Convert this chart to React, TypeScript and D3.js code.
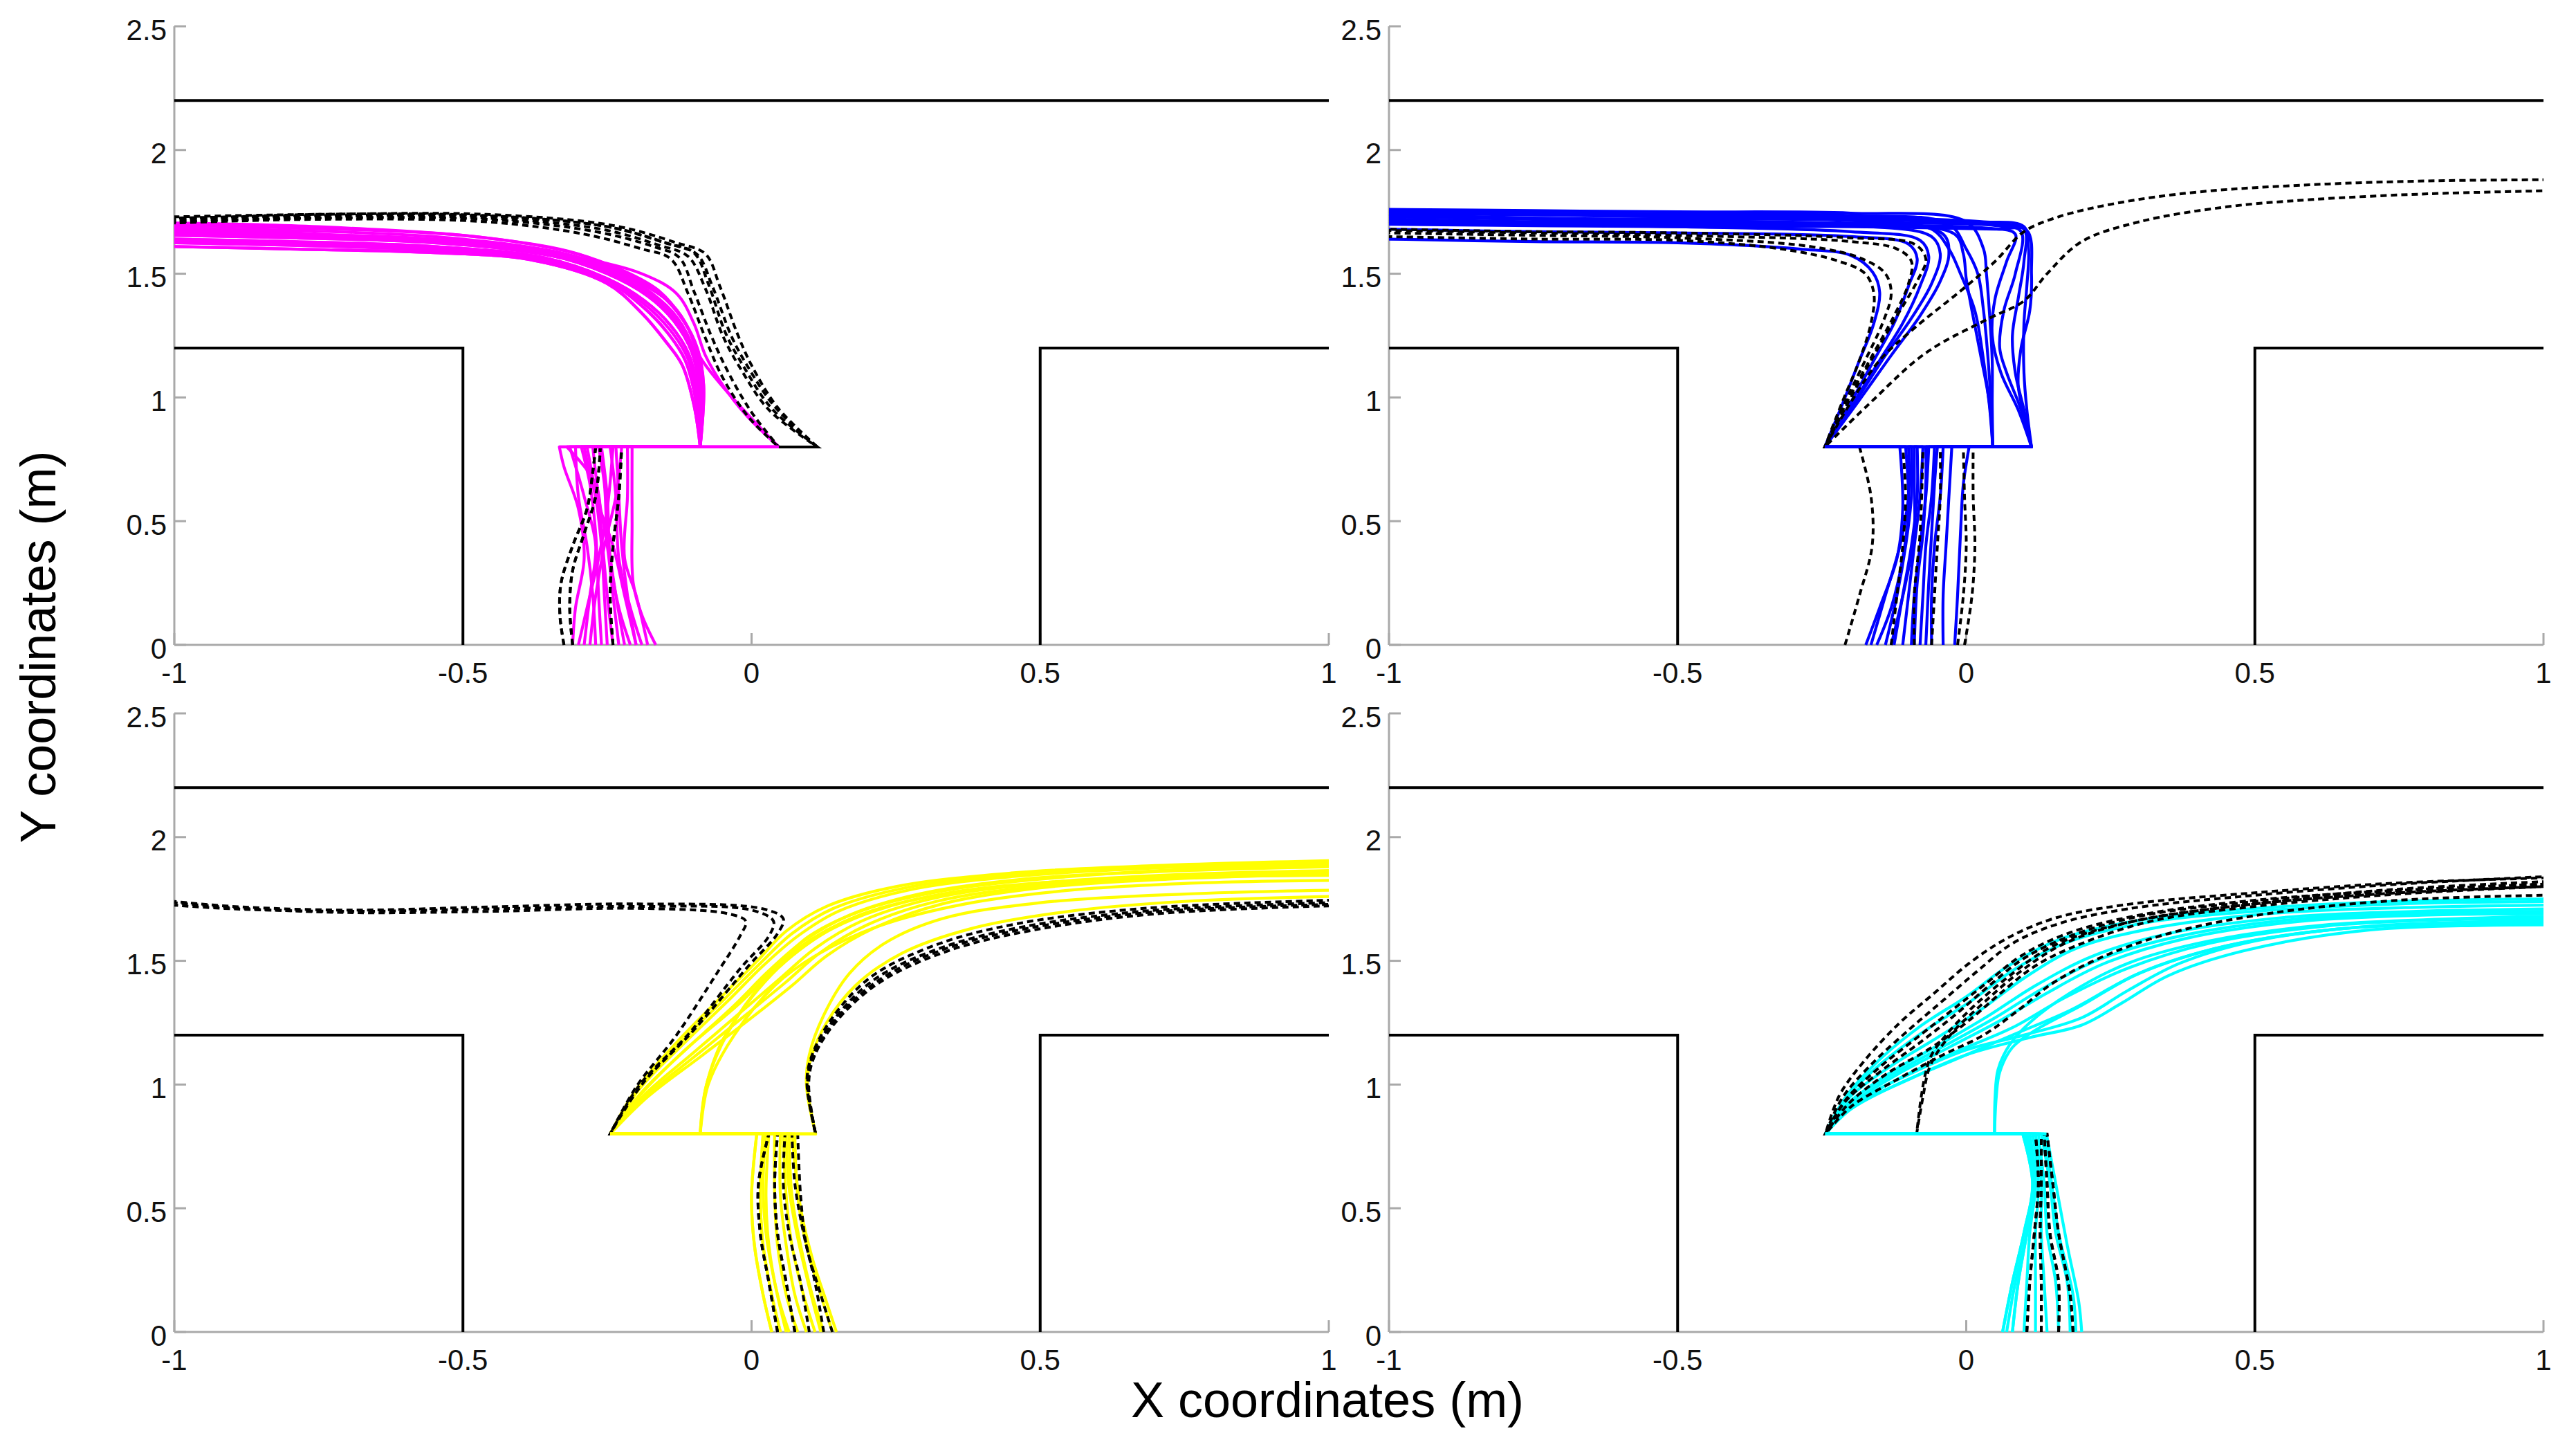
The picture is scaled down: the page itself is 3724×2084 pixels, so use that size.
import React from "react";
import * as d3 from "d3";

type P = [number, number];

const xTicks = [-1, -0.5, 0, 0.5, 1];
const yTicks = [0, 0.5, 1, 1.5, 2, 2.5];
const xLabel = "X coordinates (m)";
const yLabel = "Y coordinates (m)";

const walls: P[][] = [
  [[-1, 2.2], [1, 2.2]],
  [[-1, 1.2], [-0.5, 1.2], [-0.5, 0]],
  [[0.5, 0], [0.5, 1.2], [1, 1.2]],
];

// ---------- Panel 1 (magenta) ----------
const magentaLower: P[][] = [
  [[-0.31, 0], [-0.305, 0.15], [-0.29, 0.35], [-0.3, 0.55], [-0.325, 0.72], [-0.333, 0.8]],
  [[-0.29, 0], [-0.28, 0.2], [-0.27, 0.4], [-0.29, 0.6], [-0.315, 0.8]],
  [[-0.27, 0], [-0.275, 0.2], [-0.285, 0.4], [-0.3, 0.6], [-0.305, 0.8]],
  [[-0.25, 0], [-0.255, 0.2], [-0.26, 0.4], [-0.27, 0.6], [-0.285, 0.8]],
  [[-0.23, 0], [-0.24, 0.2], [-0.25, 0.4], [-0.265, 0.6], [-0.275, 0.8]],
  [[-0.21, 0], [-0.23, 0.15], [-0.245, 0.35], [-0.25, 0.6], [-0.26, 0.8]],
  [[-0.19, 0], [-0.21, 0.15], [-0.23, 0.35], [-0.235, 0.6], [-0.245, 0.8]],
  [[-0.166, 0], [-0.19, 0.12], [-0.205, 0.25], [-0.207, 0.5], [-0.207, 0.8]],
  [[-0.3, 0], [-0.285, 0.15], [-0.265, 0.35], [-0.25, 0.55], [-0.24, 0.8]],
  [[-0.28, 0], [-0.27, 0.2], [-0.255, 0.4], [-0.235, 0.6], [-0.225, 0.8]],
  [[-0.2, 0], [-0.22, 0.2], [-0.24, 0.4], [-0.27, 0.6], [-0.29, 0.8]],
  [[-0.18, 0], [-0.2, 0.2], [-0.22, 0.35], [-0.215, 0.6], [-0.215, 0.8]],
  [[-0.26, 0], [-0.265, 0.2], [-0.27, 0.45], [-0.28, 0.65], [-0.295, 0.8]],
  [[-0.22, 0], [-0.235, 0.2], [-0.25, 0.45], [-0.255, 0.65], [-0.265, 0.8]],
  [[-0.24, 0], [-0.25, 0.2], [-0.26, 0.45], [-0.27, 0.65], [-0.32, 0.8]],
  [[-0.2, 0], [-0.215, 0.2], [-0.225, 0.4], [-0.23, 0.6], [-0.235, 0.8]],
];
const magentaUpper: P[][] = [
  [[-0.089, 0.8], [-0.099, 0.96], [-0.12, 1.13], [-0.15, 1.23], [-0.19, 1.34], [-0.25, 1.46], [-0.38, 1.555], [-0.55, 1.585], [-0.8, 1.6], [-1, 1.61]],
  [[-0.089, 0.8], [-0.096, 0.98], [-0.115, 1.15], [-0.145, 1.26], [-0.19, 1.37], [-0.25, 1.47], [-0.37, 1.56], [-0.55, 1.595], [-0.8, 1.615], [-1, 1.625]],
  [[-0.089, 0.8], [-0.093, 1.0], [-0.108, 1.17], [-0.14, 1.29], [-0.185, 1.39], [-0.25, 1.48], [-0.36, 1.565], [-0.55, 1.61], [-0.8, 1.63], [-1, 1.64]],
  [[-0.089, 0.8], [-0.09, 1.0], [-0.103, 1.18], [-0.135, 1.31], [-0.18, 1.41], [-0.25, 1.5], [-0.35, 1.575], [-0.55, 1.625], [-0.8, 1.645], [-1, 1.655]],
  [[-0.089, 0.8], [-0.087, 1.02], [-0.1, 1.19], [-0.128, 1.32], [-0.172, 1.42], [-0.24, 1.51], [-0.34, 1.58], [-0.55, 1.64], [-0.8, 1.66], [-1, 1.67]],
  [[-0.089, 0.8], [-0.085, 1.03], [-0.097, 1.2], [-0.122, 1.33], [-0.165, 1.43], [-0.23, 1.51], [-0.33, 1.585], [-0.55, 1.65], [-0.8, 1.675], [-1, 1.685]],
  [[-0.089, 0.8], [-0.083, 1.05], [-0.094, 1.2], [-0.12, 1.32], [-0.16, 1.43], [-0.22, 1.51], [-0.31, 1.585], [-0.5, 1.655], [-0.8, 1.685], [-1, 1.695]],
  [[-0.089, 0.8], [-0.083, 1.05], [-0.093, 1.19], [-0.118, 1.31], [-0.16, 1.42], [-0.22, 1.5], [-0.3, 1.58], [-0.46, 1.645], [-0.75, 1.69], [-1, 1.705]],
  [[0.047, 0.8], [-0.014, 0.95], [-0.057, 1.063], [-0.089, 1.163], [-0.11, 1.28], [-0.14, 1.38], [-0.2, 1.47], [-0.3, 1.55], [-0.5, 1.62], [-0.75, 1.655], [-1, 1.68]],
  [[0.047, 0.8], [-0.01, 0.93], [-0.05, 1.05], [-0.08, 1.17], [-0.1, 1.3], [-0.13, 1.42], [-0.19, 1.5], [-0.3, 1.565], [-0.5, 1.63], [-0.75, 1.66], [-1, 1.69]],
  [[-0.089, 0.8], [-0.094, 0.99], [-0.111, 1.16], [-0.142, 1.275], [-0.187, 1.38], [-0.25, 1.475], [-0.365, 1.562], [-0.55, 1.602], [-0.8, 1.622], [-1, 1.632]],
  [[-0.089, 0.8], [-0.088, 1.01], [-0.101, 1.185], [-0.131, 1.315], [-0.176, 1.415], [-0.245, 1.505], [-0.345, 1.578], [-0.55, 1.632], [-0.8, 1.652], [-1, 1.662]],
];
const magentaRefLower: P[][] = [
  [[-0.325, 0], [-0.332, 0.12], [-0.33, 0.25], [-0.31, 0.4], [-0.285, 0.55], [-0.275, 0.7], [-0.27, 0.8]],
  [[-0.31, 0], [-0.315, 0.15], [-0.31, 0.3], [-0.29, 0.45], [-0.27, 0.6], [-0.262, 0.8]],
  [[-0.24, 0], [-0.245, 0.2], [-0.24, 0.4], [-0.23, 0.6], [-0.225, 0.8]],
];
const magentaRefUpper: P[][] = [
  [[0.114, 0.8], [0.04, 0.963], [-0.009, 1.134], [-0.035, 1.248], [-0.068, 1.45], [-0.094, 1.577], [-0.142, 1.62], [-0.249, 1.69], [-0.463, 1.734], [-0.75, 1.735], [-1, 1.725]],
  [[0.114, 0.8], [0.03, 0.95], [-0.02, 1.12], [-0.05, 1.25], [-0.08, 1.44], [-0.11, 1.57], [-0.16, 1.615], [-0.26, 1.68], [-0.46, 1.725], [-0.75, 1.73], [-1, 1.715]],
  [[0.047, 0.8], [0.0, 0.94], [-0.04, 1.1], [-0.07, 1.25], [-0.1, 1.43], [-0.125, 1.565], [-0.17, 1.61], [-0.27, 1.67], [-0.46, 1.72], [-0.75, 1.725], [-1, 1.71]],
  [[0.114, 0.8], [0.045, 0.96], [0.0, 1.13], [-0.025, 1.26], [-0.055, 1.45], [-0.08, 1.58], [-0.13, 1.625], [-0.24, 1.695], [-0.46, 1.74], [-0.75, 1.74], [-1, 1.73]],
  [[0.047, 0.8], [-0.005, 0.92], [-0.05, 1.08], [-0.08, 1.24], [-0.11, 1.42], [-0.14, 1.56], [-0.19, 1.6], [-0.29, 1.66], [-0.46, 1.71], [-0.75, 1.72], [-1, 1.705]],
  [[0.114, 0.8], [0.035, 0.955], [-0.015, 1.13], [-0.045, 1.26], [-0.075, 1.46], [-0.1, 1.585], [-0.15, 1.625], [-0.25, 1.69], [-0.46, 1.735], [-0.75, 1.74], [-1, 1.72]],
];

// ---------- Panel 2 (blue) ----------
const blueLower: P[][] = [
  [[-0.174, 0], [-0.15, 0.15], [-0.12, 0.35], [-0.11, 0.55], [-0.115, 0.8]],
  [[-0.155, 0], [-0.13, 0.15], [-0.11, 0.35], [-0.1, 0.55], [-0.105, 0.8]],
  [[-0.14, 0], [-0.12, 0.2], [-0.105, 0.4], [-0.095, 0.6], [-0.095, 0.8]],
  [[-0.125, 0], [-0.11, 0.2], [-0.095, 0.4], [-0.085, 0.6], [-0.085, 0.8]],
  [[-0.11, 0], [-0.1, 0.2], [-0.09, 0.4], [-0.08, 0.6], [-0.075, 0.8]],
  [[-0.095, 0], [-0.09, 0.2], [-0.08, 0.4], [-0.07, 0.6], [-0.065, 0.8]],
  [[-0.08, 0], [-0.075, 0.2], [-0.07, 0.4], [-0.06, 0.6], [-0.055, 0.8]],
  [[-0.06, 0], [-0.06, 0.2], [-0.055, 0.4], [-0.045, 0.6], [-0.04, 0.8]],
  [[-0.04, 0], [-0.04, 0.2], [-0.035, 0.4], [-0.03, 0.6], [-0.025, 0.8]],
  [[-0.02, 0], [-0.015, 0.2], [-0.01, 0.45], [-0.005, 0.65], [0.005, 0.8]],
  [[-0.165, 0], [-0.14, 0.2], [-0.115, 0.4], [-0.1, 0.6], [-0.1, 0.8]],
  [[-0.09, 0], [-0.085, 0.25], [-0.075, 0.45], [-0.07, 0.65], [-0.07, 0.8]],
  [[-0.13, 0], [-0.105, 0.25], [-0.09, 0.45], [-0.09, 0.65], [-0.09, 0.8]],
  [[-0.07, 0], [-0.065, 0.25], [-0.06, 0.45], [-0.055, 0.65], [-0.05, 0.8]],
];
const blueUpper: P[][] = [
  [[-0.245, 0.8], [-0.215, 0.97], [-0.185, 1.15], [-0.16, 1.3], [-0.15, 1.425], [-0.162, 1.506], [-0.199, 1.573], [-0.29, 1.6], [-0.5, 1.625], [-0.75, 1.63], [-1, 1.64]],
  [[-0.245, 0.8], [-0.2, 0.98], [-0.16, 1.15], [-0.125, 1.3], [-0.1, 1.45], [-0.085, 1.56], [-0.1, 1.62], [-0.2, 1.65], [-0.5, 1.665], [-0.75, 1.67], [-1, 1.68]],
  [[-0.245, 0.8], [-0.195, 0.98], [-0.15, 1.15], [-0.11, 1.3], [-0.08, 1.45], [-0.065, 1.57], [-0.08, 1.635], [-0.2, 1.67], [-0.5, 1.69], [-0.75, 1.7], [-1, 1.71]],
  [[-0.245, 0.8], [-0.19, 0.99], [-0.14, 1.17], [-0.095, 1.32], [-0.06, 1.46], [-0.045, 1.58], [-0.06, 1.65], [-0.2, 1.695], [-0.5, 1.71], [-0.75, 1.72], [-1, 1.73]],
  [[-0.245, 0.8], [-0.185, 0.99], [-0.13, 1.17], [-0.08, 1.33], [-0.045, 1.47], [-0.03, 1.58], [-0.04, 1.66], [-0.2, 1.72], [-0.5, 1.73], [-0.75, 1.74], [-1, 1.75]],
  [[0.046, 0.8], [0.04, 0.97], [0.03, 1.15], [0.015, 1.35], [-0.01, 1.5], [-0.03, 1.6], [-0.06, 1.68], [-0.2, 1.715], [-0.5, 1.72], [-0.75, 1.725], [-1, 1.74]],
  [[0.046, 0.8], [0.043, 0.97], [0.038, 1.15], [0.03, 1.35], [0.02, 1.5], [0.0, 1.6], [-0.03, 1.7], [-0.2, 1.735], [-0.5, 1.74], [-0.75, 1.745], [-1, 1.755]],
  [[0.046, 0.8], [0.045, 0.97], [0.045, 1.15], [0.04, 1.35], [0.035, 1.5], [0.03, 1.6], [0.0, 1.71], [-0.2, 1.745], [-0.5, 1.75], [-0.75, 1.755], [-1, 1.76]],
  [[0.046, 0.8], [0.04, 0.98], [0.025, 1.17], [0.01, 1.35], [0.0, 1.48], [-0.005, 1.58], [-0.02, 1.66], [-0.2, 1.7], [-0.5, 1.705], [-0.75, 1.71], [-1, 1.72]],
  [[0.113, 0.8], [0.1, 0.95], [0.085, 1.1], [0.08, 1.25], [0.09, 1.4], [0.1, 1.55], [0.1, 1.68], [0.05, 1.7], [-0.2, 1.72], [-0.5, 1.73], [-1, 1.745]],
  [[0.113, 0.8], [0.095, 0.95], [0.07, 1.1], [0.058, 1.2], [0.065, 1.35], [0.085, 1.5], [0.095, 1.67], [0.05, 1.695], [-0.2, 1.705], [-0.5, 1.715], [-1, 1.73]],
  [[0.113, 0.8], [0.105, 0.95], [0.1, 1.1], [0.1, 1.3], [0.105, 1.45], [0.108, 1.6], [0.1, 1.69], [0.03, 1.71], [-0.2, 1.73], [-0.5, 1.74], [-1, 1.75]],
  [[0.113, 0.8], [0.09, 0.95], [0.06, 1.1], [0.045, 1.25], [0.05, 1.4], [0.07, 1.55], [0.085, 1.66], [0.03, 1.685], [-0.2, 1.695], [-0.5, 1.7], [-1, 1.71]],
  [[0.113, 0.8], [0.1, 0.93], [0.09, 1.05], [0.095, 1.2], [0.11, 1.35], [0.113, 1.5], [0.105, 1.675], [0.05, 1.68], [-0.2, 1.69], [-0.5, 1.69], [-1, 1.7]],
];
const blueRefLower: P[][] = [
  [[-0.21, 0], [-0.185, 0.2], [-0.163, 0.4], [-0.165, 0.6], [-0.185, 0.8]],
  [[-0.13, 0], [-0.12, 0.2], [-0.11, 0.4], [-0.105, 0.6], [-0.11, 0.8]],
  [[-0.06, 0], [-0.055, 0.2], [-0.05, 0.4], [-0.045, 0.6], [-0.045, 0.8]],
  [[-0.015, 0], [-0.005, 0.2], [0.0, 0.4], [-0.003, 0.6], [-0.005, 0.8]],
  [[-0.003, 0], [0.01, 0.2], [0.015, 0.4], [0.012, 0.6], [0.012, 0.8]],
  [[-0.09, 0], [-0.09, 0.2], [-0.08, 0.45], [-0.075, 0.8]],
];
const blueRefUpper: P[][] = [
  [[-0.245, 0.8], [-0.2, 0.98], [-0.15, 1.15], [-0.09, 1.28], [-0.01, 1.43], [0.05, 1.55], [0.1, 1.67], [0.16, 1.73], [0.265, 1.787], [0.4, 1.83], [0.6, 1.86], [0.8, 1.875], [1, 1.88]],
  [[-0.245, 0.8], [-0.17, 0.97], [-0.07, 1.18], [0.04, 1.32], [0.1, 1.39], [0.14, 1.5], [0.2, 1.63], [0.3, 1.71], [0.45, 1.77], [0.6, 1.8], [0.8, 1.823], [1, 1.835]],
  [[-0.245, 0.8], [-0.215, 0.98], [-0.185, 1.15], [-0.165, 1.3], [-0.16, 1.42], [-0.175, 1.5], [-0.22, 1.55], [-0.32, 1.6], [-0.5, 1.635], [-0.75, 1.64], [-1, 1.65]],
  [[-0.245, 0.8], [-0.21, 0.98], [-0.175, 1.15], [-0.145, 1.3], [-0.13, 1.42], [-0.14, 1.5], [-0.18, 1.56], [-0.27, 1.61], [-0.5, 1.645], [-0.75, 1.655], [-1, 1.665]],
  [[-0.245, 0.8], [-0.205, 0.99], [-0.165, 1.16], [-0.125, 1.33], [-0.1, 1.46], [-0.095, 1.55], [-0.12, 1.6], [-0.2, 1.63], [-0.5, 1.655], [-0.75, 1.665], [-1, 1.675]],
  [[-0.245, 0.8], [-0.2, 1.0], [-0.16, 1.17], [-0.12, 1.33], [-0.085, 1.47], [-0.07, 1.56], [-0.09, 1.62], [-0.2, 1.645], [-0.5, 1.665], [-0.75, 1.67], [-1, 1.68]],
];

// ---------- Panel 3 (yellow) ----------
const yellowLower: P[][] = [
  [[0.035, 0], [0.02, 0.15], [0.005, 0.35], [0.0, 0.55], [0.009, 0.8]],
  [[0.05, 0], [0.035, 0.15], [0.02, 0.35], [0.015, 0.55], [0.02, 0.8]],
  [[0.065, 0], [0.045, 0.15], [0.03, 0.35], [0.025, 0.55], [0.03, 0.8]],
  [[0.08, 0], [0.06, 0.15], [0.045, 0.35], [0.04, 0.55], [0.04, 0.8]],
  [[0.095, 0], [0.075, 0.15], [0.06, 0.35], [0.05, 0.55], [0.05, 0.8]],
  [[0.11, 0], [0.09, 0.15], [0.07, 0.35], [0.06, 0.55], [0.055, 0.8]],
  [[0.125, 0], [0.105, 0.15], [0.085, 0.35], [0.07, 0.55], [0.065, 0.8]],
  [[0.14, 0], [0.12, 0.15], [0.095, 0.35], [0.08, 0.55], [0.075, 0.8]],
  [[0.147, 0], [0.13, 0.12], [0.105, 0.3], [0.085, 0.5], [0.07, 0.8]],
  [[0.06, 0], [0.04, 0.2], [0.025, 0.4], [0.02, 0.6], [0.025, 0.8]],
  [[0.12, 0], [0.1, 0.18], [0.08, 0.38], [0.065, 0.58], [0.06, 0.8]],
];
const yellowUpper: P[][] = [
  [[-0.245, 0.8], [-0.2, 0.98], [-0.13, 1.17], [-0.05, 1.36], [0.01, 1.5], [0.06, 1.62], [0.13, 1.72], [0.25, 1.8], [0.45, 1.855], [0.7, 1.885], [1, 1.905]],
  [[-0.245, 0.8], [-0.195, 0.98], [-0.12, 1.16], [-0.04, 1.34], [0.02, 1.48], [0.08, 1.6], [0.15, 1.7], [0.27, 1.785], [0.45, 1.84], [0.7, 1.875], [1, 1.895]],
  [[-0.245, 0.8], [-0.19, 0.97], [-0.11, 1.15], [-0.03, 1.32], [0.03, 1.46], [0.09, 1.58], [0.17, 1.685], [0.29, 1.77], [0.47, 1.83], [0.7, 1.86], [1, 1.88]],
  [[-0.245, 0.8], [-0.185, 0.96], [-0.1, 1.13], [-0.015, 1.3], [0.05, 1.43], [0.11, 1.55], [0.19, 1.66], [0.31, 1.75], [0.48, 1.81], [0.7, 1.845], [1, 1.865]],
  [[-0.245, 0.8], [-0.18, 0.95], [-0.09, 1.11], [0.0, 1.27], [0.07, 1.4], [0.13, 1.52], [0.21, 1.63], [0.33, 1.73], [0.5, 1.795], [0.72, 1.83], [1, 1.85]],
  [[-0.245, 0.8], [-0.19, 0.965], [-0.115, 1.14], [-0.02, 1.33], [0.04, 1.47], [0.1, 1.6], [0.2, 1.71], [0.35, 1.79], [0.55, 1.84], [0.75, 1.87], [1, 1.885]],
  [[-0.089, 0.8], [-0.078, 1.0], [-0.041, 1.21], [0.024, 1.425], [0.082, 1.553], [0.184, 1.682], [0.33, 1.77], [0.5, 1.815], [0.75, 1.84], [1, 1.855]],
  [[-0.089, 0.8], [-0.08, 0.98], [-0.05, 1.18], [0.01, 1.38], [0.06, 1.5], [0.14, 1.63], [0.27, 1.74], [0.45, 1.8], [0.72, 1.835], [1, 1.845]],
  [[-0.089, 0.8], [-0.075, 1.0], [-0.03, 1.2], [0.04, 1.4], [0.11, 1.52], [0.22, 1.64], [0.37, 1.73], [0.55, 1.785], [0.78, 1.815], [1, 1.825]],
  [[0.111, 0.8], [0.097, 1.0], [0.102, 1.1], [0.13, 1.25], [0.18, 1.4], [0.26, 1.53], [0.38, 1.63], [0.55, 1.7], [0.75, 1.74], [1, 1.76]],
  [[0.111, 0.8], [0.095, 1.0], [0.1, 1.12], [0.125, 1.28], [0.17, 1.45], [0.23, 1.57], [0.33, 1.67], [0.5, 1.735], [0.75, 1.77], [1, 1.785]],
  [[-0.245, 0.8], [-0.197, 0.975], [-0.125, 1.165], [-0.045, 1.35], [0.015, 1.49], [0.07, 1.61], [0.14, 1.71], [0.26, 1.792], [0.45, 1.848], [0.7, 1.88], [1, 1.9]],
  [[-0.245, 0.8], [-0.182, 0.955], [-0.095, 1.12], [-0.008, 1.285], [0.06, 1.415], [0.12, 1.535], [0.2, 1.645], [0.32, 1.74], [0.49, 1.8], [0.71, 1.838], [1, 1.858]],
];
const yellowRefLower: P[][] = [
  [[0.045, 0], [0.03, 0.2], [0.015, 0.4], [0.012, 0.6], [0.03, 0.8]],
  [[0.075, 0], [0.06, 0.2], [0.045, 0.4], [0.04, 0.6], [0.045, 0.8]],
  [[0.1, 0], [0.085, 0.2], [0.065, 0.4], [0.055, 0.6], [0.058, 0.8]],
  [[0.125, 0], [0.11, 0.2], [0.09, 0.4], [0.075, 0.6], [0.07, 0.8]],
  [[0.14, 0], [0.12, 0.15], [0.095, 0.35], [0.085, 0.55], [0.08, 0.8]],
];
const yellowRefUpper: P[][] = [
  [[0.111, 0.8], [0.097, 0.998], [0.104, 1.105], [0.14, 1.254], [0.213, 1.425], [0.329, 1.553], [0.474, 1.639], [0.692, 1.703], [1, 1.735]],
  [[0.111, 0.8], [0.099, 1.0], [0.108, 1.11], [0.145, 1.25], [0.22, 1.41], [0.34, 1.54], [0.49, 1.625], [0.7, 1.69], [1, 1.722]],
  [[-0.245, 0.8], [-0.194, 0.998], [-0.107, 1.21], [-0.02, 1.468], [0.03, 1.6], [0.038, 1.66], [0.0, 1.705], [-0.2, 1.72], [-0.45, 1.71], [-0.7, 1.7], [-0.9, 1.71], [-1, 1.725]],
  [[0.111, 0.8], [0.096, 1.0], [0.102, 1.1], [0.137, 1.26], [0.207, 1.435], [0.32, 1.565], [0.46, 1.65], [0.68, 1.712], [1, 1.745]],
  [[-0.245, 0.8], [-0.2, 0.99], [-0.13, 1.2], [-0.06, 1.45], [-0.02, 1.6], [-0.01, 1.66], [-0.04, 1.69], [-0.2, 1.712], [-0.45, 1.7], [-0.7, 1.695], [-0.9, 1.715], [-1, 1.735]],
  [[0.111, 0.8], [0.098, 1.0], [0.106, 1.1], [0.142, 1.25], [0.218, 1.418], [0.335, 1.548], [0.48, 1.632], [0.7, 1.698], [1, 1.728]],
  [[-0.245, 0.8], [-0.19, 1.0], [-0.1, 1.22], [-0.005, 1.48], [0.045, 1.61], [0.055, 1.67], [0.02, 1.71], [-0.2, 1.73], [-0.45, 1.718], [-0.7, 1.705], [-0.9, 1.72], [-1, 1.74]],
];

// ---------- Panel 4 (cyan) ----------
const cyanLower: P[][] = [
  [[0.063, 0], [0.08, 0.2], [0.1, 0.4], [0.115, 0.6], [0.098, 0.8]],
  [[0.08, 0], [0.09, 0.2], [0.105, 0.4], [0.118, 0.6], [0.105, 0.8]],
  [[0.1, 0], [0.105, 0.2], [0.11, 0.4], [0.12, 0.6], [0.11, 0.8]],
  [[0.12, 0], [0.12, 0.2], [0.12, 0.4], [0.125, 0.6], [0.115, 0.8]],
  [[0.14, 0], [0.135, 0.2], [0.13, 0.4], [0.13, 0.6], [0.12, 0.8]],
  [[0.16, 0], [0.155, 0.2], [0.14, 0.4], [0.135, 0.6], [0.125, 0.8]],
  [[0.18, 0], [0.175, 0.2], [0.155, 0.4], [0.145, 0.6], [0.13, 0.8]],
  [[0.2, 0], [0.195, 0.12], [0.175, 0.35], [0.155, 0.6], [0.139, 0.8]],
  [[0.19, 0], [0.185, 0.15], [0.16, 0.4], [0.148, 0.6], [0.135, 0.8]],
  [[0.07, 0], [0.085, 0.2], [0.11, 0.45], [0.12, 0.6], [0.1, 0.8]],
];
const cyanUpper: P[][] = [
  [[-0.244, 0.8], [-0.2, 0.9], [-0.12, 1.0], [-0.02, 1.1], [0.08, 1.2], [0.18, 1.3], [0.3, 1.45], [0.45, 1.56], [0.65, 1.63], [0.85, 1.65], [1, 1.655]],
  [[-0.244, 0.8], [-0.2, 0.91], [-0.12, 1.02], [-0.02, 1.13], [0.08, 1.23], [0.17, 1.35], [0.28, 1.47], [0.42, 1.57], [0.62, 1.64], [0.82, 1.665], [1, 1.67]],
  [[-0.244, 0.8], [-0.2, 0.92], [-0.12, 1.04], [-0.03, 1.15], [0.06, 1.26], [0.14, 1.37], [0.24, 1.49], [0.38, 1.59], [0.58, 1.66], [0.8, 1.685], [1, 1.69]],
  [[-0.244, 0.8], [-0.2, 0.93], [-0.13, 1.05], [-0.04, 1.17], [0.04, 1.28], [0.12, 1.4], [0.22, 1.52], [0.35, 1.61], [0.55, 1.675], [0.78, 1.7], [1, 1.71]],
  [[-0.244, 0.8], [-0.21, 0.93], [-0.14, 1.06], [-0.05, 1.19], [0.03, 1.31], [0.1, 1.43], [0.19, 1.55], [0.32, 1.63], [0.52, 1.69], [0.76, 1.715], [1, 1.725]],
  [[-0.244, 0.8], [-0.21, 0.94], [-0.15, 1.08], [-0.07, 1.22], [0.01, 1.34], [0.08, 1.46], [0.17, 1.57], [0.3, 1.65], [0.5, 1.7], [0.75, 1.73], [1, 1.74]],
  [[-0.244, 0.8], [-0.2, 0.915], [-0.1, 1.04], [0.0, 1.14], [0.1, 1.2], [0.2, 1.27], [0.28, 1.38], [0.37, 1.49], [0.5, 1.58], [0.7, 1.64], [1, 1.66]],
  [[-0.244, 0.8], [-0.2, 0.905], [-0.1, 1.02], [0.0, 1.12], [0.11, 1.19], [0.2, 1.24], [0.27, 1.33], [0.35, 1.44], [0.48, 1.54], [0.7, 1.625], [1, 1.645]],
  [[0.049, 0.8], [0.052, 0.95], [0.058, 1.05], [0.08, 1.15], [0.12, 1.22], [0.2, 1.32], [0.3, 1.45], [0.45, 1.56], [0.65, 1.63], [1, 1.665]],
  [[0.049, 0.8], [0.05, 0.95], [0.055, 1.06], [0.075, 1.16], [0.11, 1.25], [0.18, 1.37], [0.28, 1.49], [0.42, 1.58], [0.62, 1.645], [1, 1.68]],
  [[-0.244, 0.8], [-0.205, 0.925], [-0.125, 1.045], [-0.035, 1.16], [0.05, 1.27], [0.13, 1.385], [0.23, 1.505], [0.37, 1.6], [0.57, 1.668], [0.79, 1.693], [1, 1.7]],
  [[-0.244, 0.8], [-0.21, 0.945], [-0.155, 1.09], [-0.08, 1.235], [0.0, 1.355], [0.07, 1.475], [0.16, 1.585], [0.29, 1.66], [0.49, 1.71], [0.74, 1.74], [1, 1.75]],
];
const cyanRefLower: P[][] = [
  [[0.105, 0], [0.11, 0.2], [0.118, 0.4], [0.125, 0.6], [0.12, 0.8]],
  [[0.13, 0], [0.13, 0.2], [0.128, 0.4], [0.13, 0.6], [0.13, 0.8]],
  [[0.16, 0], [0.16, 0.2], [0.145, 0.4], [0.14, 0.6], [0.135, 0.8]],
  [[0.185, 0], [0.18, 0.15], [0.16, 0.4], [0.15, 0.6], [0.14, 0.8]],
];
const cyanRefUpper: P[][] = [
  [[-0.244, 0.8], [-0.21, 0.93], [-0.15, 1.05], [-0.08, 1.17], [-0.02, 1.28], [0.04, 1.4], [0.1, 1.51], [0.18, 1.6], [0.3, 1.68], [0.5, 1.74], [0.75, 1.79], [1, 1.82]],
  [[-0.244, 0.8], [-0.215, 0.945], [-0.165, 1.08], [-0.1, 1.22], [-0.04, 1.34], [0.02, 1.46], [0.08, 1.57], [0.16, 1.65], [0.28, 1.71], [0.5, 1.765], [0.75, 1.81], [1, 1.84]],
  [[-0.244, 0.8], [-0.205, 0.92], [-0.14, 1.04], [-0.06, 1.15], [0.0, 1.25], [0.06, 1.37], [0.12, 1.48], [0.2, 1.57], [0.32, 1.66], [0.5, 1.72], [0.75, 1.77], [1, 1.8]],
  [[-0.244, 0.8], [-0.2, 0.91], [-0.12, 1.02], [-0.04, 1.12], [0.03, 1.2], [0.09, 1.3], [0.15, 1.41], [0.23, 1.51], [0.35, 1.61], [0.52, 1.69], [0.75, 1.745], [1, 1.765]],
  [[-0.244, 0.8], [-0.21, 0.935], [-0.155, 1.06], [-0.085, 1.19], [-0.025, 1.3], [0.035, 1.41], [0.095, 1.52], [0.175, 1.61], [0.3, 1.685], [0.5, 1.745], [0.75, 1.785], [1, 1.81]],
  [[-0.086, 0.8], [-0.075, 0.95], [-0.065, 1.06], [-0.05, 1.13], [-0.02, 1.22], [0.03, 1.33], [0.09, 1.45], [0.17, 1.57], [0.29, 1.66], [0.5, 1.73], [0.75, 1.78], [1, 1.81]],
  [[-0.086, 0.8], [-0.078, 0.95], [-0.07, 1.05], [-0.06, 1.12], [-0.035, 1.2], [0.01, 1.31], [0.07, 1.43], [0.15, 1.56], [0.27, 1.65], [0.48, 1.725], [0.75, 1.775], [1, 1.8]],
  [[-0.244, 0.8], [-0.22, 0.955], [-0.175, 1.1], [-0.115, 1.25], [-0.055, 1.37], [0.005, 1.49], [0.07, 1.59], [0.15, 1.67], [0.27, 1.725], [0.5, 1.775], [0.75, 1.815], [1, 1.835]],
];

const panelColors = ["#ff00ff", "#0000ff", "#ffff00", "#00ffff"];

const PW = 1669;
const PH = 894;
const origins: [number, number][] = [
  [252, 38],
  [2008, 38],
  [252, 1031],
  [2008, 1031],
];
const FONT = "'Liberation Sans', Arial, Helvetica, sans-serif";

type Spec = {
  color: string;
  lower: P[][];
  upper: P[][];
  refLower: P[][];
  refUpper: P[][];
};

const specs: Spec[] = [
  { color: panelColors[0], lower: magentaLower, upper: magentaUpper, refLower: magentaRefLower, refUpper: magentaRefUpper },
  { color: panelColors[1], lower: blueLower, upper: blueUpper, refLower: blueRefLower, refUpper: blueRefUpper },
  { color: panelColors[2], lower: yellowLower, upper: yellowUpper, refLower: yellowRefLower, refUpper: yellowRefUpper },
  { color: panelColors[3], lower: cyanLower, upper: cyanUpper, refLower: cyanRefLower, refUpper: cyanRefUpper },
];

function Panel({ ox, oy, spec }: { ox: number; oy: number; spec: Spec }) {
  const x = d3.scaleLinear().domain([-1, 1]).range([ox, ox + PW]);
  const y = d3.scaleLinear().domain([0, 2.5]).range([oy + PH, oy]);
  const smooth = d3
    .line<P>()
    .x((d) => x(d[0]))
    .y((d) => y(d[1]))
    .curve(d3.curveCatmullRom.alpha(0.5));
  const straight = d3
    .line<P>()
    .x((d) => x(d[0]))
    .y((d) => y(d[1]));
  const trajectories = (lower: P[][], upper: P[][]) => {
    const n = Math.max(lower.length, upper.length);
    return d3.range(n).map((i) => {
      const lo = smooth(lower[i % lower.length]) as string;
      const up = (smooth(upper[i % upper.length]) as string).replace(/^M/, "L");
      return lo + up;
    });
  };
  const connectors = (lower: P[][], upper: P[][]) => {
    const n = Math.max(lower.length, upper.length);
    return d3.range(n).map((i) => {
      const lo = lower[i % lower.length];
      const up = upper[i % upper.length];
      return straight([lo[lo.length - 1], up[0]]) as string;
    });
  };
  const colored = trajectories(spec.lower, spec.upper);
  const coloredLinks = connectors(spec.lower, spec.upper);
  const ref = trajectories(spec.refLower, spec.refUpper);
  const axisColor = "#a9a9a9";
  return (
    <g>
      <line x1={ox} y1={oy} x2={ox} y2={oy + PH} stroke={axisColor} strokeWidth={3} />
      <line x1={ox} y1={oy + PH} x2={ox + PW} y2={oy + PH} stroke={axisColor} strokeWidth={3} />
      {yTicks.map((t) => (
        <g key={"y" + t}>
          <line x1={ox} x2={ox + 17} y1={y(t)} y2={y(t)} stroke={axisColor} strokeWidth={3} />
          <text x={ox - 11} y={y(t) + 5} textAnchor="end" dominantBaseline="central" fontSize={42} fontFamily={FONT} fill="#111">
            {String(t)}
          </text>
        </g>
      ))}
      {xTicks.map((t) => (
        <g key={"x" + t}>
          <line x1={x(t)} x2={x(t)} y1={oy + PH} y2={oy + PH - 17} stroke={axisColor} strokeWidth={3} />
          <text x={x(t)} y={oy + PH + 55} textAnchor="middle" fontSize={42} fontFamily={FONT} fill="#111">
            {String(t)}
          </text>
        </g>
      ))}
      {walls.map((w, i) => (
        <path key={"w" + i} d={straight(w) as string} fill="none" stroke="#000" strokeWidth={4} />
      ))}
      {colored.map((d, i) => (
        <path key={"c" + i} d={d} fill="none" stroke={spec.color} strokeWidth={4.2} strokeLinejoin="round" />
      ))}
      {ref.map((d, i) => (
        <path key={"r" + i} d={d} fill="none" stroke="#000" strokeWidth={4} strokeDasharray="9 6" />
      ))}
      {coloredLinks.map((d, i) => (
        <path key={"l" + i} d={d} fill="none" stroke={spec.color} strokeWidth={4.2} />
      ))}
    </g>
  );
}

export default function App() {
  return (
    <svg
      width={3724}
      height={2084}
      viewBox="0 0 3724 2084"
      style={{ position: "absolute", left: 0, top: 0, display: "block", background: "#fff" }}
    >
      <rect x={0} y={0} width={3724} height={2084} fill="#fff" />
      {specs.map((s, i) => (
        <Panel key={i} ox={origins[i][0]} oy={origins[i][1]} spec={s} />
      ))}
      <text x={1919} y={2048} textAnchor="middle" fontSize={72} fontFamily={FONT} fill="#000">
        {xLabel}
      </text>
      <text
        transform="translate(80,935) rotate(-90)"
        textAnchor="middle"
        fontSize={72}
        fontFamily={FONT}
        fill="#000"
      >
        {yLabel}
      </text>
    </svg>
  );
}
